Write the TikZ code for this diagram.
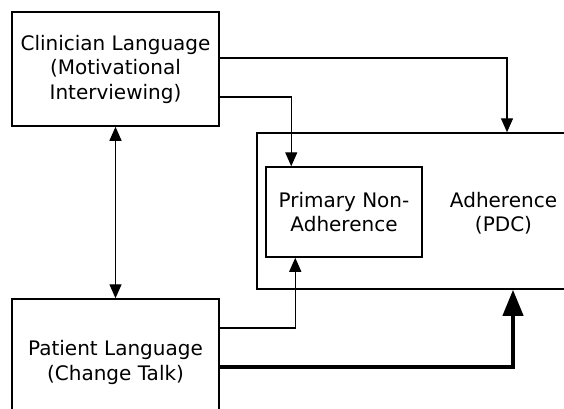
\documentclass[tikz,border=0pt]{standalone}
\usepackage{fontspec}
\setmainfont{DejaVu Sans}
\usetikzlibrary{arrows.meta,calc}
\begin{document}
\begin{tikzpicture}[x=1pt,y=-1pt,
  box/.style={draw,line width=1.5pt,rectangle,align=center,inner sep=0pt,
    font=\fontsize{20}{24.5}\selectfont},
  txt/.style={align=center,inner sep=0pt,font=\fontsize{20}{24.5}\selectfont},
  conn/.style={line width=1.4pt,-{Triangle[length=14pt,width=12pt]}},
  dconn/.style={line width=1.4pt,{Triangle[length=14pt,width=12pt]}-{Triangle[length=14pt,width=12pt]}},
  thick conn/.style={line width=4pt,-{Triangle[length=26pt,width=20pt]}}]
\useasboundingbox (0,0) rectangle (564,408);
\clip (0,0) rectangle (564,408);
\node[box,minimum width=207pt,minimum height=114pt] (clin) at (115.5,69) {Clinician Language\\(Motivational\\Interviewing)};
\node[box,minimum width=500pt,minimum height=156pt] (adhbox) at (507,211) {};
\node[txt] (adhtxt) at (503.5,213) {Adherence\\(PDC)};
\node[box,minimum width=156pt,minimum height=90pt] (prim) at (344,212) {Primary Non-\\Adherence};
\node[box,minimum width=207pt,minimum height=127pt] (pat) at (115.5,362.5) {Patient Language\\(Change Talk)};
\draw[conn] ([yshift=11pt]clin.east) -| (adhbox.north);
\draw[conn] ([yshift=-28pt]clin.east) -| ([xshift=26pt]prim.north west);
\draw[dconn] (clin.south) -- (pat.north);
\draw[conn] ([yshift=34.5pt]pat.east) -| ([xshift=30pt]prim.south west);
\draw[thick conn] ([yshift=-4.5pt]pat.east) -| ([xshift=6pt]adhbox.south);
\end{tikzpicture}
\end{document}
